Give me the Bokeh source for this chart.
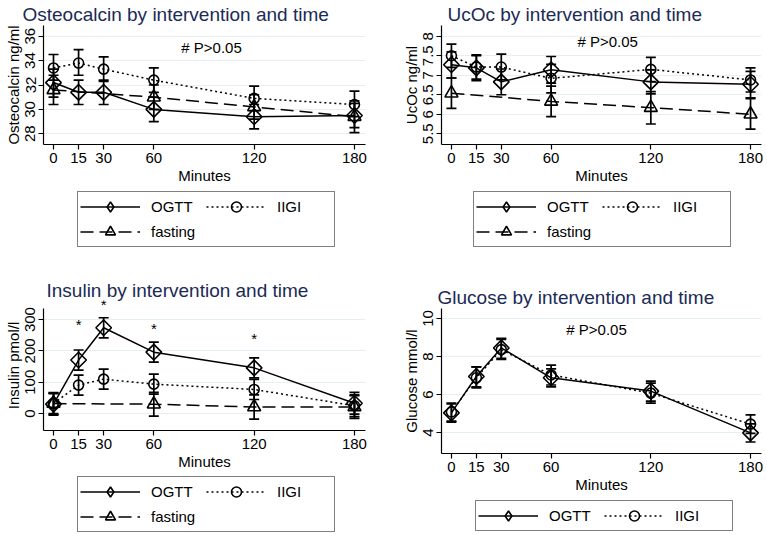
import math
from bokeh.plotting import figure
from bokeh.models import (ColumnDataSource, Whisker, TeeHead, Legend, LegendItem,
                          FixedTicker, Range1d)
from bokeh.layouts import column, row
from bokeh.core.properties import value
from bokeh.embed import file_html
from bokeh.resources import INLINE

FONT = "Liberation Sans"
TITLE_COLOR = "#1b2a56"
GRID_COLOR = "#e6eff2"

# ---------------- data ----------------
minutes = [0, 15, 30, 60, 120, 180]
fast_minutes = [0, 60, 120, 180]
minute_labels = ["0", "15", "30", "60", "120", "180"]

# Osteocalcin ng/ml
oc_ogtt = [32.2, 31.4, 31.4, 30.0, 29.4, 29.5]
oc_ogtt_lo = [31.0, 30.4, 30.4, 29.0, 28.4, 28.5]
oc_ogtt_hi = [33.3, 32.4, 32.4, 31.0, 30.4, 30.5]
oc_iigi = [33.4, 33.8, 33.3, 32.4, 30.9, 30.4]
oc_iigi_lo = [32.4, 32.8, 32.3, 31.4, 29.9, 29.4]
oc_iigi_hi = [34.5, 34.9, 34.3, 33.4, 31.9, 31.5]
oc_fast = [31.6, 31.0, 30.2, 29.4]
oc_fast_lo = [30.4, 30.0, 29.2, 28.1]
oc_fast_hi = [32.8, 32.0, 31.2, 30.7]
oc_ticks = [28, 30, 32, 34, 36]
oc_tick_labels = ["28", "30", "32", "34", "36"]

# UcOc ng/ml
uc_ogtt = [7.27, 7.19, 6.83, 7.14, 6.83, 6.77]
uc_ogtt_lo = [6.93, 6.86, 6.50, 6.80, 6.52, 6.42]
uc_ogtt_hi = [7.60, 7.52, 7.16, 7.48, 7.14, 7.10]
uc_iigi = [7.50, 7.21, 7.21, 6.92, 7.15, 6.88]
uc_iigi_lo = [7.20, 6.90, 6.88, 6.55, 6.84, 6.57]
uc_iigi_hi = [7.80, 7.50, 7.54, 7.28, 7.46, 7.19]
uc_fast = [6.54, 6.33, 6.17, 6.00]
uc_fast_lo = [6.15, 5.94, 5.75, 5.62]
uc_fast_hi = [6.93, 6.72, 6.58, 6.40]
uc_ticks = [5.5, 6, 6.5, 7, 7.5, 8]
uc_tick_labels = ["5.5", "6", "6.5", "7", "7.5", "8"]

# Insulin pmol/l
ins_ogtt = [30, 171, 274, 196, 146, 33]
ins_ogtt_lo = [-5, 139, 242, 164, 114, -2]
ins_ogtt_hi = [65, 203, 306, 228, 178, 68]
ins_iigi = [32, 91, 110, 94, 77, 25]
ins_iigi_lo = [0, 59, 78, 62, 45, -10]
ins_iigi_hi = [64, 123, 142, 126, 109, 60]
ins_fast = [32, 30, 21, 21]
ins_fast_lo = [-3, -8, -18, -15]
ins_fast_hi = [67, 68, 60, 57]
ins_ticks = [0, 100, 200, 300]
ins_tick_labels = ["0", "100", "200", "300"]
star_minutes = [15, 30, 60, 120]
star_y = [284, 348, 271, 239]

# Glucose mmol/l
glu_ogtt = [5.03, 6.95, 8.45, 6.88, 6.18, 3.98]
glu_ogtt_lo = [4.55, 6.40, 7.90, 6.40, 5.65, 3.50]
glu_ogtt_hi = [5.50, 7.45, 8.95, 7.35, 6.70, 4.45]
glu_iigi = [5.08, 6.88, 8.36, 7.03, 6.07, 4.44]
glu_iigi_lo = [4.60, 6.35, 7.85, 6.50, 5.55, 3.95]
glu_iigi_hi = [5.55, 7.45, 8.90, 7.55, 6.60, 4.93]
glu_ticks = [4, 6, 8, 10]
glu_tick_labels = ["4", "6", "8", "10"]

note_text = "# P>0.05"

SOLID = "solid"
DOT = "2 3"
DASH = "13 6"
DIA = math.pi / 4
STYLE = {
    "OGTT": dict(dash=SOLID, marker="square", size=11, angle=DIA, key_marker="diamond"),
    "IIGI": dict(dash=DOT, marker="circle", size=10, angle=0.0, key_marker="circle"),
    "fasting": dict(dash=DASH, marker="triangle", size=13, angle=0.0, key_marker="triangle"),
}


def make_panel(title, ylabel, yrange, yticks, ylabels, width, height,
               borders, title_offset, title_standoff=2, ybounds="auto"):
    p = figure(width=width, height=height, output_backend="svg",
               toolbar_location=None,
               x_range=Range1d(-5.98, 186.6), y_range=Range1d(*yrange),
               min_border_left=borders[0], min_border_right=borders[1],
               min_border_top=borders[2], min_border_bottom=borders[3])
    p.title.text = title
    p.title.text_font = FONT
    p.title.text_font_size = "19px"
    p.title.text_font_style = "normal"
    p.title.text_color = TITLE_COLOR
    p.title.offset = title_offset
    p.title.standoff = title_standoff
    p.outline_line_color = None
    p.background_fill_color = "white"
    p.border_fill_color = "white"

    p.xaxis.ticker = FixedTicker(ticks=minutes)
    p.xaxis.major_label_overrides = {t: s for t, s in zip(minutes, minute_labels)}
    p.xaxis.axis_label = "Minutes"
    p.yaxis.ticker = FixedTicker(ticks=yticks)
    p.yaxis.major_label_overrides = {t: s for t, s in zip(yticks, ylabels)}
    p.yaxis.axis_label = ylabel
    p.yaxis.major_label_orientation = "vertical"
    p.yaxis.bounds = ybounds
    for ax in (p.xaxis, p.yaxis):
        ax.axis_label_text_font = FONT
        ax.axis_label_text_font_size = "15px"
        ax.axis_label_text_font_style = "normal"
        ax.axis_label_text_color = "black"
        ax.major_label_text_font = FONT
        ax.major_label_text_font_size = "15px"
        ax.major_label_text_color = "black"
        ax.axis_line_color = "black"
        ax.axis_line_width = 1.2
        ax.major_tick_line_color = "black"
        ax.major_tick_line_width = 1.2
        ax.major_tick_out = 5
        ax.major_tick_in = 0
        ax.minor_tick_out = 0
        ax.minor_tick_in = 0
        ax.major_label_standoff = 3
        ax.axis_label_standoff = 1
    p.xgrid.visible = False
    p.ygrid.grid_line_color = GRID_COLOR
    p.ygrid.grid_line_width = 1.2
    return p


def add_series(p, x, y, lo, hi, name):
    st = STYLE[name]
    src = ColumnDataSource(dict(x=x, y=y, lo=lo, hi=hi))
    head = dict(size=10, line_color="black", line_width=1.7)
    w = Whisker(source=src, base="x", lower="lo", upper="hi",
                line_color="black", line_width=1.7,
                upper_head=TeeHead(**head), lower_head=TeeHead(**head))
    p.add_layout(w)
    p.line("x", "y", source=src, line_color="black", line_width=1.5,
           line_dash=st["dash"])
    p.scatter("x", "y", source=src, marker=st["marker"], size=st["size"],
              angle=st["angle"], fill_color=None, line_color="black",
              line_width=1.6)


def legend_fig(width, height, names, loc, ncols):
    # key-only figure: its glyphs sit outside the visible range, only the key shows
    f = figure(width=width, height=height, output_backend="svg",
               toolbar_location=None, x_axis_type=None, y_axis_type=None,
               x_range=Range1d(0, 1), y_range=Range1d(0, 1), min_border=0)
    f.outline_line_color = None
    f.background_fill_color = "white"
    f.border_fill_color = "white"
    items = []
    for name in names:
        st = STYLE[name]
        src = ColumnDataSource(dict(x=[-10.0, -11.0], y=[-10.0, -11.0]))
        ln = f.line("x", "y", source=src, line_color="black", line_width=1.5,
                    line_dash=st["dash"])
        sc = f.scatter("x", "y", source=src, marker=st["key_marker"], size=st["size"],
                       fill_color=None, line_color="black", line_width=1.6)
        items.append(LegendItem(label=name, renderers=[ln, sc]))
    lg = Legend(items=items, orientation="horizontal", ncols=ncols, location=loc,
                label_text_font=FONT, label_text_font_size="15px",
                label_text_color="black",
                glyph_width=60, glyph_height=25, label_height=25,
                label_width=55, label_standoff=11, spacing=0, padding=2,
                margin=0, border_line_color="black", border_line_width=1.2,
                background_fill_color="white", background_fill_alpha=1.0)
    f.add_layout(lg, "center")
    return f


def add_note(p, x, y):
    src = ColumnDataSource(dict(x=[x], y=[y], t=[note_text]))
    p.text("x", "y", text="t", source=src, text_align="center",
           text_baseline="middle", text_font=value(FONT),
           text_font_size="15px", text_color="black")


# ---- Osteocalcin ----
p1 = make_panel("Osteocalcin by intervention and time", "Osteocalcin ng/ml",
                (27.12, 36.88), oc_ticks, oc_tick_labels, 384, 190,
                (43, 19, 22, 46), -21)
add_series(p1, minutes, oc_ogtt, oc_ogtt_lo, oc_ogtt_hi, "OGTT")
add_series(p1, minutes, oc_iigi, oc_iigi_lo, oc_iigi_hi, "IIGI")
add_series(p1, fast_minutes, oc_fast, oc_fast_lo, oc_fast_hi, "fasting")
add_note(p1, 94.5, 35.1)
l1 = legend_fig(384, 80, ["OGTT", "IIGI", "fasting"], (34, 23), 2)

# ---- UcOc ----
p2 = make_panel("UcOc by intervention and time", "UcOc ng/ml",
                (5.225, 8.275), uc_ticks, uc_tick_labels, 383, 190,
                (57, 6, 22, 46), 6)
add_series(p2, minutes, uc_ogtt, uc_ogtt_lo, uc_ogtt_hi, "OGTT")
add_series(p2, minutes, uc_iigi, uc_iigi_lo, uc_iigi_hi, "IIGI")
add_series(p2, fast_minutes, uc_fast, uc_fast_lo, uc_fast_hi, "fasting")
add_note(p2, 94.0, 7.87)
l2 = legend_fig(383, 80, ["OGTT", "IIGI", "fasting"], (32, 23), 2)

# ---- Insulin ----
p3 = make_panel("Insulin by intervention and time", "Insulin pmol/l",
                (-54, 361), ins_ticks, ins_tick_labels, 384, 205,
                (43, 19, 30, 45), 3, title_standoff=0, ybounds=(-54, 335))
add_series(p3, minutes, ins_ogtt, ins_ogtt_lo, ins_ogtt_hi, "OGTT")
add_series(p3, minutes, ins_iigi, ins_iigi_lo, ins_iigi_hi, "IIGI")
add_series(p3, fast_minutes, ins_fast, ins_fast_lo, ins_fast_hi, "fasting")
stars = ColumnDataSource(dict(x=star_minutes, y=star_y, t=["*"] * len(star_minutes)))
p3.text("x", "y", text="t", source=stars, text_align="center",
        text_baseline="middle", text_font=value(FONT),
        text_font_size="15px", text_color="black")
l3 = legend_fig(384, 59, ["OGTT", "IIGI", "fasting"], (34, 2), 2)

# ---- Glucose ----
p4 = make_panel("Glucose by intervention and time", "Glucose mmol/l",
                (2.895, 10.526), glu_ticks, glu_tick_labels, 383, 228,
                (57, 6, 38, 45), -4)
add_series(p4, minutes, glu_ogtt, glu_ogtt_lo, glu_ogtt_hi, "OGTT")
add_series(p4, minutes, glu_iigi, glu_iigi_lo, glu_iigi_hi, "IIGI")
add_note(p4, 87.3, 9.42)
l4 = legend_fig(383, 36, ["OGTT", "IIGI"], (34, 3), 2)

layout = column(row(column(p1, l1), column(p2, l2)),
                row(column(p3, l3), column(p4, l4)))
open("out.html", "w").write(file_html(layout, INLINE))
